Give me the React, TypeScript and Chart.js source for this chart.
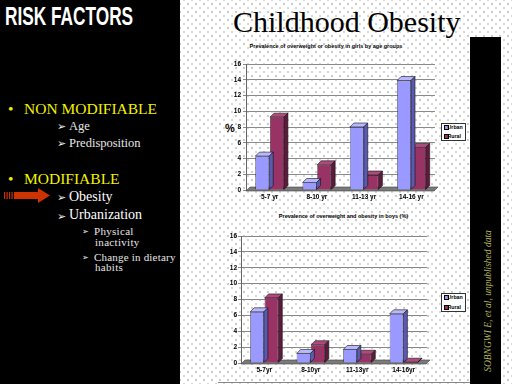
import React, { useEffect, useRef } from "react";
import { Chart, registerables } from "chart.js";

Chart.register(...registerables);

// ---------- DATA ----------
const girlsCategories = ["5-7 yr", "8-10 yr", "11-13 yr", "14-16 yr"];
const girlsUrban = [4.3, 0.95, 8.0, 13.9];
const girlsRural = [9.25, 3.2, 1.9, 5.4];

const boysCategories = ["5-7yr", "8-10yr", "11-13yr", "14-16yr"];
const boysUrban = [6.45, 1.2, 1.7, 6.2];
const boysRural = [8.2, 2.3, 1.1, 0.1];

const seriesNames = ["Urban", "Rural"];
const yMin = 0;
const yMax = 16;
const yStep = 2;

const girlsTitle = "Prevalence of overweight or obesity in girls by age groups";
const boysTitle = "Prevalence of overweight and obesity in boys (%)";

// ---------- STYLE ----------
const SERIF = "'Liberation Serif', Tinos, 'Times New Roman', 'DejaVu Serif', serif";
const SANS = "'Liberation Sans', Arimo, Arial, 'DejaVu Sans', sans-serif";
const frontColors = ["#9999ff", "#993366"];
const topColors = ["#b8b8ff", "#b04a7c"];
const sideColors = ["#5a5ab0", "#5e1a3c"];
const DEPTH = 4;

const bar3d = {
  id: "bar3d",
  beforeDatasetsDraw(chart: any) {
    const { ctx, chartArea } = chart;
    const { left, right, bottom } = chartArea;
    ctx.save();
    ctx.fillStyle = "#7a7a7a";
    ctx.beginPath();
    ctx.moveTo(left, bottom + 1);
    ctx.lineTo(right - 1, bottom + 1);
    ctx.lineTo(right + DEPTH - 1, bottom + 1 - DEPTH);
    ctx.lineTo(left + DEPTH, bottom + 1 - DEPTH);
    ctx.closePath();
    ctx.fill();
    ctx.strokeStyle = "#444";
    ctx.lineWidth = 0.6;
    ctx.stroke();
    ctx.restore();
  },
  afterDatasetDraw(chart: any, args: any) {
    const i = args.index;
    const { ctx } = chart;
    const meta = chart.getDatasetMeta(i);
    ctx.save();
    ctx.lineWidth = 0.6;
    ctx.strokeStyle = "#111";
    meta.data.forEach((bar: any) => {
      const { x, y, base, width } = bar.getProps(["x", "y", "base", "width"], true);
      const l = x - width / 2;
      const r = x + width / 2;
      const d = DEPTH;
      ctx.fillStyle = topColors[i];
      ctx.beginPath();
      ctx.moveTo(l, y);
      ctx.lineTo(l + d, y - d);
      ctx.lineTo(r + d, y - d);
      ctx.lineTo(r, y);
      ctx.closePath();
      ctx.fill();
      ctx.stroke();
      ctx.fillStyle = sideColors[i];
      ctx.beginPath();
      ctx.moveTo(r, y);
      ctx.lineTo(r + d, y - d);
      ctx.lineTo(r + d, base - d);
      ctx.lineTo(r, base);
      ctx.closePath();
      ctx.fill();
      ctx.stroke();
    });
    ctx.restore();
  },
};

type ChartProps = {
  labels: string[];
  urban: number[];
  rural: number[];
  left: number;
  top: number;
  w: number;
  h: number;
  pad: { left: number; top: number; right: number; bottom: number };
  yWidth: number;
  xHeight: number;
  yPad: number;
};

function Bar3DChart(p: ChartProps) {
  const ref = useRef<HTMLCanvasElement>(null);
  useEffect(() => {
    if (!ref.current) return;
    const tickFont = { family: SANS, size: 6.5, weight: "bold" };
    const chart = new Chart(ref.current, {
      type: "bar",
      data: {
        labels: p.labels,
        datasets: [
          {
            label: seriesNames[0],
            data: p.urban,
            backgroundColor: frontColors[0],
            borderColor: "#111",
            borderWidth: 0.6,
          },
          {
            label: seriesNames[1],
            data: p.rural,
            backgroundColor: frontColors[1],
            borderColor: "#111",
            borderWidth: 0.6,
          },
        ],
      },
      options: {
        responsive: false,
        animation: false,
        layout: { padding: p.pad },
        plugins: {
          legend: { display: false },
          tooltip: { enabled: false },
          title: { display: false },
        },
        datasets: {
          bar: { categoryPercentage: 0.62, barPercentage: 0.95 },
        },
        scales: {
          x: {
            grid: { display: false, drawTicks: false, tickLength: 0 },
            border: { display: false },
            ticks: { color: "#000", padding: 3, font: tickFont, maxRotation: 0 },
            afterFit: (s: any) => {
              s.height = p.xHeight;
            },
          },
          y: {
            min: yMin,
            max: yMax,
            ticks: { stepSize: yStep, color: "#000", padding: p.yPad, font: tickFont },
            grid: { color: "#8a8a8a", lineWidth: 1, tickLength: 3 },
            border: { display: true, color: "#666", width: 1 },
            afterFit: (s: any) => {
              s.width = p.yWidth;
            },
          },
        },
      },
      plugins: [bar3d],
    } as any);
    return () => chart.destroy();
  }, []);
  return (
    <canvas
      ref={ref}
      width={p.w}
      height={p.h}
      style={{ position: "absolute", left: p.left, top: p.top, width: p.w, height: p.h }}
    />
  );
}

function Txt(props: {
  x: number;
  base: number;
  size: number;
  family?: string;
  color?: string;
  weight?: string | number;
  italic?: boolean;
  children: React.ReactNode;
  style?: React.CSSProperties;
}) {
  const fam = props.family || SERIF;
  const ratio = fam.indexOf("Sans") >= 0 ? 0.846 : 0.8375;
  return (
    <div
      style={{
        position: "absolute",
        left: props.x,
        top: props.base - ratio * props.size,
        fontSize: props.size,
        lineHeight: `${props.size}px`,
        fontFamily: fam,
        color: props.color || "#fff",
        fontWeight: (props.weight as any) || "normal",
        fontStyle: props.italic ? "italic" : "normal",
        whiteSpace: "nowrap",
        ...props.style,
      }}
    >
      {props.children}
    </div>
  );
}

function Legend({ left, top, y1, y2 }: { left: number; top: number; y1: number; y2: number }) {
  return (
    <>
      <div
        style={{
          position: "absolute",
          left,
          top,
          width: 25,
          height: y2 - top + 3,
          border: "1px solid #333",
          background: "#fff",
          boxSizing: "border-box",
        }}
      />
      {[y1, y2].map((b, i) => (
        <React.Fragment key={i}>
          <div
            style={{
              position: "absolute",
              left: left + 2.5,
              top: b - 4,
              width: 3,
              height: 3,
              background: frontColors[i],
              border: "0.5px solid #000",
            }}
          />
          <Txt x={left + 6.5} base={b} size={5.3} family={SANS} color="#000" weight="bold">
            {seriesNames[i]}
          </Txt>
        </React.Fragment>
      ))}
    </>
  );
}

function Arrow({ x, base, size }: { x: number; base: number; size: number }) {
  return (
    <Txt x={x} base={base} size={size} family="'DejaVu Sans', sans-serif" color="#f0f0f0" weight="bold">
      {"\u27A2"}
    </Txt>
  );
}

export default function App() {
  useEffect(() => {
    document.body.style.margin = "0";
  }, []);
  return (
    <div
      style={{
        position: "fixed",
        left: 0,
        top: 0,
        width: 512,
        height: 384,
        overflow: "hidden",
        backgroundColor: "#fff",
        backgroundImage:
          "radial-gradient(circle, #b0b0b0 0.6px, transparent 0.9px), radial-gradient(circle, #c0c0c0 0.6px, transparent 0.9px)",
        backgroundSize: "8px 8px, 8px 8px",
        backgroundPosition: "0 0, 4px 4px",
      }}
    >
      {/* left panel */}
      <div style={{ position: "absolute", left: 0, top: 0, width: 180, height: 384, background: "#000" }} />
      <Txt
        x={5}
        base={25}
        size={25}
        family={"'Liberation Sans Narrow', " + SANS}
        weight="bold"
        color="#fff"
        style={{ transform: "scaleX(0.69)", transformOrigin: "left", letterSpacing: 0 }}
      >
        RISK FACTORS
      </Txt>

      <Txt x={8} base={114.3} size={15.5} color="#f2f200">•</Txt>
      <Txt x={24} base={114.3} size={15.5} color="#f2f200">NON MODIFIABLE</Txt>
      <Arrow x={57} base={130} size={11} />
      <Txt x={69} base={130} size={12.5} color="#e6e6e6">Age</Txt>
      <Arrow x={57} base={147.3} size={11} />
      <Txt x={69} base={147.3} size={12.5} color="#e6e6e6">Predisposition</Txt>

      <Txt x={8} base={184.3} size={15.5} color="#f2f200">•</Txt>
      <Txt x={24} base={184.3} size={15.5} color="#f2f200">MODIFIABLE</Txt>
      <svg style={{ position: "absolute", left: 0, top: 185 }} width={52} height={22}>
        {[4, 6.5, 9, 11.5].map((xx) => (
          <rect key={xx} x={xx} y={7} width={1.2} height={7} fill="#cc3300" />
        ))}
        <polygon points="14,7 38,7 38,3 50,10.5 38,18 38,14 14,14" fill="#cc3300" />
      </svg>
      <Arrow x={57} base={201.7} size={11} />
      <Txt x={69} base={201.7} size={14} color="#fff">Obesity</Txt>
      <Arrow x={57} base={220} size={11} />
      <Txt x={69} base={220} size={14} color="#fff">Urbanization</Txt>
      <Arrow x={82} base={235} size={8} />
      <Txt x={94} base={235} size={11} color="#e6e6e6" style={{ letterSpacing: 0.3 }}>Physical</Txt>
      <Txt x={95} base={246.7} size={11} color="#e6e6e6" style={{ letterSpacing: 0.3 }}>inactivity</Txt>
      <Arrow x={82} base={261} size={8} />
      <Txt x={94} base={261} size={11} color="#e6e6e6" style={{ letterSpacing: 0.2 }}>Change in dietary</Txt>
      <Txt x={95} base={271.7} size={11} color="#e6e6e6" style={{ letterSpacing: 0.3 }}>habits</Txt>

      {/* title */}
      <Txt x={233} base={31.7} size={30} color="#000">Childhood Obesity</Txt>

      {/* right black bar */}
      <div style={{ position: "absolute", left: 470, top: 37, width: 31, height: 347, background: "#000" }} />
      <div
        style={{
          position: "absolute",
          left: 488,
          top: 301,
          transform: "translate(-50%, -50%) rotate(-90deg)",
          fontFamily: SERIF,
          fontStyle: "italic",
          fontSize: 9.5,
          color: "#b5b55a",
          whiteSpace: "nowrap",
          lineHeight: "10px",
        }}
      >
        SOBNGWI E, et al, unpublished data
      </div>

      {/* chart 1 */}
      <Txt
        x={226}
        base={49}
        size={5.5}
        family={SANS}
        weight="bold"
        color="#000"
        style={{ width: 200, textAlign: "center" }}
      >
        {girlsTitle}
      </Txt>
      <Txt x={225} base={132} size={11} family={SANS} weight="bold" color="#000">%</Txt>
      <Bar3DChart
        labels={girlsCategories}
        urban={girlsUrban}
        rural={girlsRural}
        left={200}
        top={55}
        w={270}
        h={150}
        pad={{ left: 16, top: 9, right: 35, bottom: 0 }}
        yWidth={30}
        xHeight={15}
        yPad={2}
      />
      <Legend left={441} top={123} y1={129.3} y2={138} />

      {/* chart 2 */}
      <Txt
        x={243.5}
        base={218.7}
        size={5.5}
        family={SANS}
        weight="bold"
        color="#000"
        style={{ width: 200, textAlign: "center" }}
      >
        {boysTitle}
      </Txt>
      <Bar3DChart
        labels={boysCategories}
        urban={boysUrban}
        rural={boysRural}
        left={200}
        top={225}
        w={270}
        h={153}
        pad={{ left: 11, top: 11, right: 43, bottom: 0 }}
        yWidth={30}
        xHeight={15}
        yPad={1}
      />
      <Legend left={441} top={293} y1={299.3} y2={309} />
      <div style={{ position: "absolute", left: 218, top: 382, width: 252, height: 1, background: "#888" }} />
    </div>
  );
}
